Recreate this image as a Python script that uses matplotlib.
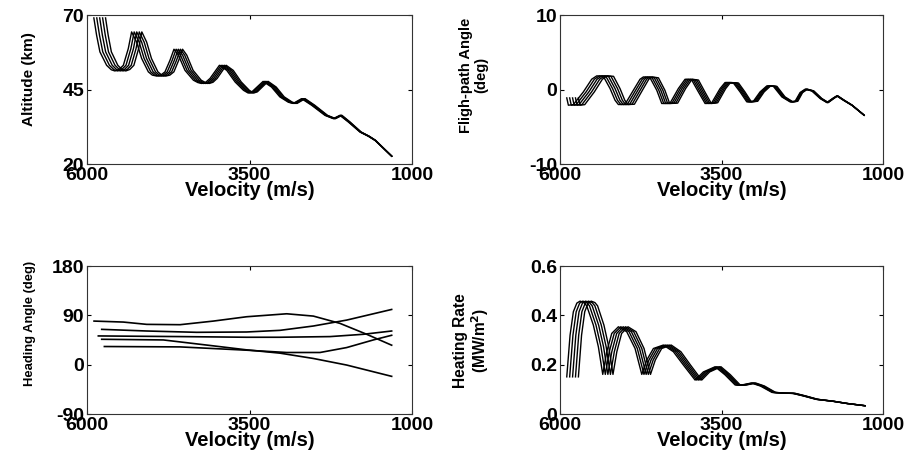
import numpy as np
import matplotlib
matplotlib.use("Agg")
import matplotlib.pyplot as plt

plt.rcParams['font.family'] = ['Liberation Sans', 'DejaVu Sans']
plt.rcParams['font.weight'] = 'bold'
plt.rcParams['axes.unicode_minus'] = False

# starting velocities of the five trajectories (m/s)
start_vel = [5895, 5850, 5805, 5760, 5715]

# altitude vs velocity, lead trajectory
alt_vel = [5888, 5846, 5795, 5692, 5620, 5565, 5500, 5435, 5359, 5308, 5231, 5154, 5051,
           4990, 4923, 4860, 4795, 4718, 4657, 4589, 4488, 4359, 4290, 4231, 4170, 4103,
           3959, 3846, 3718, 3589, 3518, 3460, 3288, 3159, 3031, 2900, 2826, 2697, 2543,
           2338, 2210, 2108, 1980, 1800, 1672, 1569, 1312]
alt_km = [69.1, 63.3, 57.7, 53.2, 51.7, 51.3, 51.8, 53.2, 58.8, 64.4, 61.0, 55.5, 51.0,
          49.9, 49.6, 49.9, 51.0, 54.9, 58.6, 56.6, 51.5, 48.2, 47.4, 47.1, 47.5, 48.8,
          53.2, 51.5, 47.6, 44.8, 43.9, 44.3, 47.8, 45.9, 42.6, 40.8, 40.4, 42.0, 39.8,
          36.4, 35.3, 36.4, 34.2, 30.8, 29.4, 28.0, 22.7]

# flight-path angle vs velocity, lead trajectory
fpa_vel = [5896, 5871, 5794, 5639, 5510, 5432, 5330, 5226, 5149, 5097, 4994, 4865, 4762,
           4710, 4607, 4503, 4426, 4297, 4169, 4065, 3962, 3859, 3755, 3652, 3523, 3446,
           3317, 3214, 3110, 3008, 2904, 2800, 2698, 2568, 2440, 2362, 2285, 2207, 2104,
           1975, 1871, 1769, 1717, 1614, 1485, 1294]
fpa_deg = [-1.1, -2.08, -2.0, -0.29, 1.41, 1.86, 1.8, 0.16, -1.41, -1.99, -1.95, -0.07, 1.41,
           1.72, 1.6, -0.07, -1.85, -1.8, 0.16, 1.41, 1.3, -0.29, -1.85, -1.75, 0.16, 0.97,
           0.9, -0.29, -1.63, -1.55, -0.29, 0.51, 0.45, -0.96, -1.63, -1.55, -0.38, 0.07, -0.16,
           -1.18, -1.72, -1.1, -0.83, -1.41, -2.08, -3.42]

# heating rate vs velocity, lead trajectory
heat_vel = [5896, 5845, 5794, 5740, 5690, 5630, 5587, 5485, 5407, 5339, 5277, 5200, 5097,
            4968, 4839, 4735, 4658, 4555, 4401, 4246, 4091, 3910, 3782, 3600, 3450, 3290,
            3190, 3040, 2900, 2720, 2560, 2400, 2240, 2040, 1780, 1560, 1279]
heat_mw = [0.151, 0.320, 0.415, 0.450, 0.458, 0.452, 0.439, 0.361, 0.273, 0.161, 0.253, 0.327,
           0.354, 0.334, 0.266, 0.161, 0.219, 0.266, 0.280, 0.253, 0.199, 0.138, 0.171, 0.192,
           0.160, 0.118, 0.118, 0.126, 0.114, 0.088, 0.085, 0.084, 0.074, 0.060, 0.052, 0.043,
           0.034]

# heading angle, five separate trajectories
hd_vel_a = [5892, 5441, 5082, 4569, 4056, 3544, 2928, 2518, 2108, 1697, 1313]
hd_a = [79.7, 77.9, 73.7, 73.1, 79.7, 87.6, 93.0, 88.8, 75.5, 55.6, 35.7]
hd_vel_b = [5774, 5082, 4313, 3544, 3031, 2518, 2005, 1313]
hd_b = [64.6, 61.6, 59.2, 59.8, 62.8, 70.7, 81.5, 100.9]
hd_vel_c = [5826, 4569, 3544, 3031, 2262, 1749, 1313]
hd_c = [52.6, 51.4, 50.2, 50.2, 51.4, 55.6, 61.6]
hd_vel_d = [5774, 4826, 4056, 3544, 3031, 2518, 2005, 1313]
hd_d = [46.5, 45.3, 34.5, 27.2, 21.2, 11.5, -0.5, -21.1]
hd_vel_e = [5733, 4569, 3544, 2928, 2415, 2005, 1595, 1313]
hd_e = [33.3, 32.6, 26.6, 22.4, 22.4, 31.4, 45.3, 53.8]


def spread(vel, start):
    # stretch the lead trajectory so it begins at another start velocity
    vel = np.asarray(vel, dtype=float)
    v_end = vel[-1]
    return v_end + (vel - v_end) * (start - v_end) / (vel[0] - v_end)


def style(ax, yticks):
    ax.set_xlim(6000, 1000)
    ax.set_xticks([6000, 3500, 1000])
    ax.set_ylim(yticks[0], yticks[-1])
    ax.set_yticks(yticks)
    ax.tick_params(direction='in', length=3, width=0.8, top=True, right=True,
                   labelsize=14, pad=2)
    for s in ax.spines.values():
        s.set_linewidth(0.8)
        s.set_color('#333333')
    ax.set_xlabel("Velocity (m/s)", fontsize=14.5, fontweight='bold', labelpad=-2)


fig = plt.figure(figsize=(9.18, 4.76), dpi=100)
ax1 = fig.add_axes([0.0948, 0.655, 0.354, 0.313])
ax2 = fig.add_axes([0.610, 0.655, 0.352, 0.313])
ax3 = fig.add_axes([0.0948, 0.130, 0.354, 0.311])
ax4 = fig.add_axes([0.610, 0.130, 0.352, 0.311])

for s in start_vel:
    ax1.plot(spread(alt_vel, s), alt_km, color='black', lw=1.0)
    ax2.plot(spread(fpa_vel, s), fpa_deg, color='black', lw=1.0)
    ax4.plot(spread(heat_vel, s), heat_mw, color='black', lw=1.0)

for v, h in [(hd_vel_a, hd_a), (hd_vel_b, hd_b), (hd_vel_c, hd_c),
             (hd_vel_d, hd_d), (hd_vel_e, hd_e)]:
    ax3.plot(v, h, color='black', lw=1.2)

style(ax1, [20, 45, 70])
style(ax2, [-10, 0, 10])
style(ax3, [-90, 0, 90, 180])
style(ax4, [0, 0.2, 0.4, 0.6])
ax4.set_yticklabels(['0', '0.2', '0.4', '0.6'])

ax1.set_ylabel("Altitude (km)", fontsize=11, fontweight='bold')
ax1.yaxis.set_label_coords(-0.157, 0.574)
ax2.set_ylabel("Fligh-path Angle\n(deg)", fontsize=10.6, fontweight='bold', linespacing=1.05)
ax2.yaxis.set_label_coords(-0.223, 0.597)
ax3.set_ylabel("Heading Angle (deg)", fontsize=9.4, fontweight='bold')
ax3.yaxis.set_label_coords(-0.157, 0.615)
ax4.set_ylabel("Heating Rate\n(MW/m$^\\mathbf{2}$)", fontsize=11.2, fontweight='bold',
               linespacing=1.05)
ax4.yaxis.set_label_coords(-0.215, 0.497)

fig.savefig("out.png", dpi=100)
